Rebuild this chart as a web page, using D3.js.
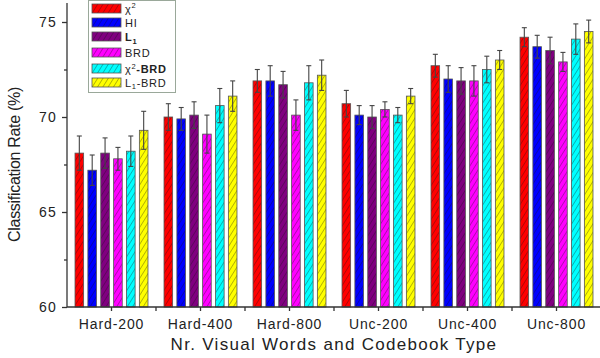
<!DOCTYPE html>
<html>
<head>
<meta charset="utf-8">
<script src="https://cdn.jsdelivr.net/npm/d3@7"></script>
<style>
  body { margin: 0; background: #fff; }
  svg { font-family: "Liberation Sans", Arial, sans-serif; }
</style>
</head>
<body>
<svg id="chart" width="600" height="358"></svg>
<script>
const categories = ['Hard-200', 'Hard-400', 'Hard-800', 'Unc-200', 'Unc-400', 'Unc-800'];
const series = ['chi2', 'HI', 'L1', 'BRD', 'chi2BRD', 'L1BRD'];
const colors = ['#ff0000', '#0000ff', '#800080', '#ff00ff', '#00ffff', '#ffff00'];

// mean rate per series, one value per category
const chi2    = [68.1, 70.0, 71.9, 70.7, 72.7, 74.2];
const hi      = [67.2, 69.9, 71.9, 70.1, 72.0, 73.7];
const l1      = [68.1, 70.1, 71.7, 70.0, 71.9, 73.5];
const brd     = [67.8, 69.1, 70.1, 70.4, 71.9, 72.9];
const chi2Brd = [68.2, 70.6, 71.8, 70.1, 72.5, 74.1];
const l1Brd   = [69.3, 71.1, 72.2, 71.1, 73.0, 74.5];

// error (std) per series
const chi2Err    = [0.9, 0.7, 0.6, 0.7, 0.6, 0.5];
const hiErr      = [0.8, 0.6, 0.8, 0.5, 0.7, 0.6];
const l1Err      = [0.8, 0.7, 0.7, 0.6, 0.7, 0.7];
const brdErr     = [0.6, 1.0, 0.8, 0.4, 0.8, 0.5];
const chi2BrdErr = [0.8, 0.9, 0.9, 0.4, 0.7, 0.8];
const l1BrdErr   = [1.0, 0.8, 0.8, 0.4, 0.5, 0.6];

const yTicks = [60, 65, 70, 75];
const yMinorTicks = [62.5, 67.5, 72.5];

const values = [chi2, hi, l1, brd, chi2Brd, l1Brd];
const errors = [chi2Err, hiErr, l1Err, brdErr, chi2BrdErr, l1BrdErr];

const svg = d3.select('#chart');
const margin = { left: 67, right: -1, top: 3, bottom: 51 };
const width = 600, height = 358;

const x0 = d3.scaleBand().domain(categories).range([margin.left, width - margin.right]).padding(0);
const x1 = d3.scaleBand().domain(series)
  .range([x0.bandwidth() * 0.09, x0.bandwidth() * 0.91])
  .paddingInner(0.33).paddingOuter(0);
const y = d3.scaleLinear().domain([60, 76]).range([height - margin.bottom, margin.top]);

// hatch patterns
const defs = svg.append('defs');
colors.forEach((c, i) => {
  const p = defs.append('pattern')
    .attr('id', 'hatch' + i)
    .attr('patternUnits', 'userSpaceOnUse')
    .attr('width', 4.5).attr('height', 4.5)
    .attr('patternTransform', 'rotate(32)');
  p.append('rect').attr('width', 4.5).attr('height', 4.5).attr('fill', c);
  p.append('line').attr('x1', 0).attr('y1', 0).attr('x2', 0).attr('y2', 4.5)
    .attr('stroke', '#111').attr('stroke-width', 0.7).attr('opacity', 0.85);
});

const rows = [];
categories.forEach((cat, ci) => {
  series.forEach((s, si) => {
    rows.push({ cat, s, si, v: values[si][ci], e: errors[si][ci] });
  });
});

// bars
svg.append('g').selectAll('rect')
  .data(rows)
  .join('rect')
  .attr('x', d => x0(d.cat) + x1(d.s))
  .attr('y', d => y(d.v))
  .attr('width', x1.bandwidth())
  .attr('height', d => y(60) - y(d.v))
  .attr('fill', d => 'url(#hatch' + d.si + ')')
  .attr('stroke', '#555')
  .attr('stroke-width', 0.8);

// error bars
const eb = svg.append('g').attr('stroke', '#444').attr('stroke-width', 1.1);
rows.forEach(d => {
  const cx = x0(d.cat) + x1(d.s) + x1.bandwidth() / 2;
  eb.append('line').attr('x1', cx).attr('x2', cx).attr('y1', y(d.v - d.e)).attr('y2', y(d.v + d.e));
  eb.append('line').attr('x1', cx - 2.5).attr('x2', cx + 2.5).attr('y1', y(d.v + d.e)).attr('y2', y(d.v + d.e));
  eb.append('line').attr('x1', cx - 2.5).attr('x2', cx + 2.5).attr('y1', y(d.v - d.e)).attr('y2', y(d.v - d.e));
});

// y axis
const yAxis = svg.append('g')
  .attr('transform', `translate(${margin.left},0)`)
  .call(d3.axisLeft(y).tickValues(yTicks).tickSize(5).tickPadding(5));
yAxis.select('.domain').attr('d', `M0,${y(60)}V${y(76)}`).attr('stroke', '#333').attr('stroke-width', 1.3);
yAxis.selectAll('.tick line').attr('stroke', '#333').attr('stroke-width', 1.3);
yAxis.selectAll('.tick text').attr('font-size', 14).attr('fill', '#222')
  .attr('letter-spacing', 1.2)
  .attr('font-family', '"Liberation Sans", Arial, sans-serif');
svg.append('g').attr('transform', `translate(${margin.left},0)`)
  .call(d3.axisLeft(y).tickValues(yMinorTicks).tickSize(3).tickFormat(''))
  .call(g => g.select('.domain').remove())
  .selectAll('.tick line').attr('stroke', '#333').attr('stroke-width', 1.3);

// x axis
const xAxis = svg.append('g')
  .attr('transform', `translate(0,${y(60)})`)
  .call(d3.axisBottom(x0).tickSize(4).tickPadding(8));
xAxis.select('.domain').attr('d', `M${margin.left},0H${width}`).attr('stroke', '#333').attr('stroke-width', 1.3);
xAxis.selectAll('.tick line').attr('stroke', '#333').attr('stroke-width', 1.3);
xAxis.selectAll('.tick text').attr('font-size', 14).attr('fill', '#222')
  .attr('letter-spacing', 0.9)
  .attr('font-family', '"Liberation Sans", Arial, sans-serif');
const boundaries = categories.slice(1).map(c => x0(c));
svg.append('g').selectAll('line')
  .data(boundaries)
  .join('line')
  .attr('x1', d => d).attr('x2', d => d)
  .attr('y1', y(60)).attr('y2', y(60) + 4)
  .attr('stroke', '#333').attr('stroke-width', 1.3);

// axis titles
svg.append('text')
  .attr('x', 334).attr('y', 350)
  .attr('text-anchor', 'middle')
  .attr('font-size', 17).attr('fill', '#222')
  .attr('letter-spacing', 1.3)
  .text('Nr. Visual Words and Codebook Type');
svg.append('text')
  .attr('transform', `translate(20,${y(67.5)}) rotate(-90)`)
  .attr('text-anchor', 'middle')
  .attr('font-size', 16).attr('fill', '#222')
  .attr('letter-spacing', -0.3)
  .text('Classification Rate (%)');

// legend
const legend = svg.append('g');
legend.append('rect')
  .attr('x', 88.5).attr('y', 0.5).attr('width', 87).attr('height', 92)
  .attr('fill', '#fff').attr('stroke', '#9aa89a').attr('stroke-width', 1);
const legendY = [4, 18, 32, 48, 64, 78];
const item = legend.selectAll('g.item')
  .data(series)
  .join('g')
  .attr('class', 'item')
  .attr('transform', (d, i) => `translate(92,${legendY[i]})`);
item.append('rect')
  .attr('width', 29).attr('height', 9)
  .attr('fill', (d, i) => 'url(#hatch' + i + ')')
  .attr('stroke', '#555').attr('stroke-width', 0.8);
const lt = item.append('text')
  .attr('x', 33).attr('y', 9)
  .attr('font-size', 11).attr('fill', '#222')
  .attr('letter-spacing', 0.7);
lt.each(function (d) {
  const t = d3.select(this);
  if (d === 'chi2') {
    t.append('tspan').text('χ');
    t.append('tspan').attr('dy', -5).attr('font-size', 7.5).text('2');
  } else if (d === 'HI') {
    t.text('HI');
  } else if (d === 'L1') {
    t.append('tspan').attr('font-weight', 'bold').text('L');
    t.append('tspan').attr('dy', 3).attr('font-size', 7.5).attr('font-weight', 'bold').text('1');
  } else if (d === 'BRD') {
    t.text('BRD');
  } else if (d === 'chi2BRD') {
    t.append('tspan').text('χ');
    t.append('tspan').attr('dy', -4).attr('font-size', 7.5).text('2');
    t.append('tspan').attr('dy', 4).attr('font-weight', 'bold').text('-BRD');
  } else {
    t.append('tspan').text('L');
    t.append('tspan').attr('dy', 2).attr('font-size', 7.5).text('1');
    t.append('tspan').attr('dy', -2).text('-BRD');
  }
});
</script>
</body>
</html>
